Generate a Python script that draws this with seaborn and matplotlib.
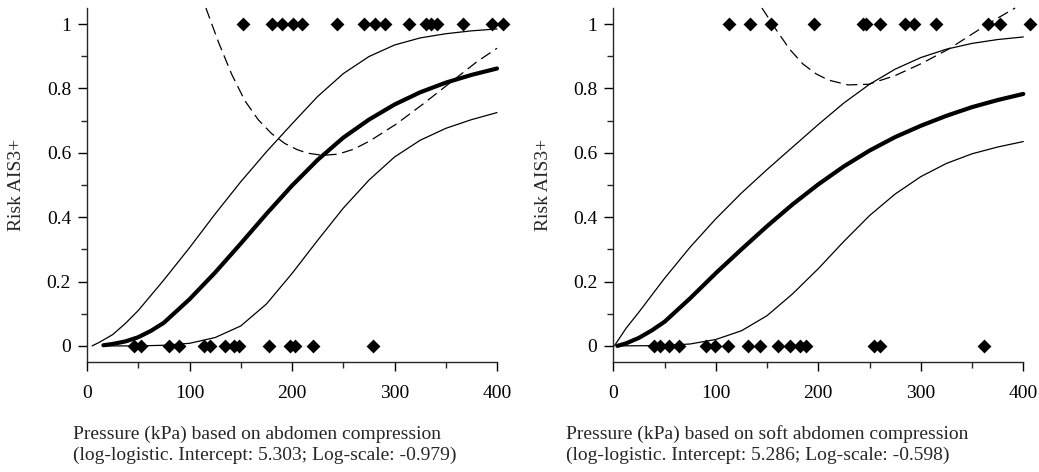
import matplotlib
matplotlib.use("Agg")
import matplotlib.pyplot as plt
import seaborn as sns
import numpy as np
import pandas as pd
from matplotlib.ticker import MultipleLocator

# ---------------- data: left panel (abdomen compression) ----------------
left_pts_1 = [152, 180, 190, 201, 210, 244, 270, 281, 291, 314, 331, 336, 341, 367, 395, 406]
left_pts_0 = [46, 53, 80, 90, 114, 120, 135, 143, 148, 178, 198, 203, 220, 279]

left_fit_x = [16, 25, 37.5, 50, 62.5, 75, 100, 125, 150, 175, 200, 225, 250, 275, 300, 325, 350, 375, 400]
left_fit_y = [0.002, 0.006, 0.014, 0.027, 0.047, 0.072, 0.145, 0.228, 0.318, 0.41, 0.498, 0.578,
              0.647, 0.703, 0.750, 0.788, 0.818, 0.842, 0.862]
left_up_x = [5, 12.5, 25, 37.5, 50, 75, 100, 125, 150, 175, 200, 225, 250, 275, 300, 325, 350, 375, 400]
left_up_y = [0.0, 0.012, 0.035, 0.07, 0.11, 0.205, 0.305, 0.41, 0.51, 0.603, 0.69, 0.775, 0.846,
             0.899, 0.935, 0.957, 0.97, 0.979, 0.985]
left_lo_x = [16, 50, 75, 100, 125, 150, 175, 200, 225, 250, 275, 300, 325, 350, 375, 400]
left_lo_y = [0.0, 0.0, 0.002, 0.008, 0.026, 0.062, 0.13, 0.225, 0.328, 0.428, 0.515, 0.587,
             0.639, 0.676, 0.703, 0.725]
left_dash_x = [116, 128, 141, 154, 167, 180, 193, 205, 215, 230, 245, 260, 276, 302, 328, 354, 380, 400]
left_dash_y = [1.05, 0.946, 0.845, 0.762, 0.703, 0.66, 0.629, 0.61, 0.599, 0.592, 0.596, 0.611,
               0.637, 0.69, 0.752, 0.817, 0.882, 0.925]

# ---------------- data: right panel (soft abdomen compression) ----------------
right_pts_1 = [113, 133, 154, 196, 244, 247, 260, 285, 293, 315, 366, 377, 407]
right_pts_0 = [40, 46, 54, 64, 90, 99, 112, 131, 143, 161, 172, 182, 188, 254, 260, 362]

right_fit_x = [4, 12.5, 25, 37.5, 50, 75, 100, 125, 150, 175, 200, 225, 250, 275, 300, 325, 350, 375, 400]
right_fit_y = [0.0, 0.008, 0.025, 0.048, 0.075, 0.148, 0.226, 0.30, 0.372, 0.44, 0.502, 0.558,
               0.607, 0.649, 0.684, 0.715, 0.742, 0.764, 0.783]
right_up_x = [1, 12.5, 25, 50, 75, 100, 125, 150, 175, 200, 225, 250, 275, 300, 325, 350, 375, 400]
right_up_y = [0.0, 0.055, 0.105, 0.21, 0.307, 0.395, 0.475, 0.548, 0.618, 0.688, 0.755, 0.813,
              0.86, 0.896, 0.922, 0.94, 0.952, 0.96]
right_lo_x = [4, 50, 75, 100, 125, 150, 175, 200, 225, 250, 275, 300, 325, 350, 375, 400]
right_lo_y = [0.0, 0.001, 0.006, 0.02, 0.047, 0.094, 0.162, 0.24, 0.325, 0.405, 0.472, 0.526,
              0.567, 0.597, 0.618, 0.635]
right_dash_x = [145, 159, 172, 185, 198, 210, 229, 249, 275, 301, 327, 353, 372, 392]
right_dash_y = [1.05, 0.982, 0.922, 0.876, 0.845, 0.826, 0.811, 0.813, 0.84, 0.878, 0.922,
                0.975, 1.013, 1.05]

x_labels = ["Pressure (kPa) based on abdomen compression\n(log-logistic. Intercept: 5.303; Log-scale: -0.979)",
            "Pressure (kPa) based on soft abdomen compression\n(log-logistic. Intercept: 5.286; Log-scale: -0.598)"]
y_label = "Risk AIS3+"

# ---------------- style ----------------
sns.set_style("ticks")
plt.rcParams["font.family"] = ["Liberation Serif", "DejaVu Serif"]
plt.rcParams["axes.linewidth"] = 1.0
FS = 14

W, H = 1039, 472
fig = plt.figure(figsize=(W / 100, H / 100), dpi=100)
ax1 = fig.add_axes([87 / W, (H - 362) / H, 410 / W, 354 / H])
ax2 = fig.add_axes([613.3 / W, (H - 362) / H, 410 / W, 354 / H])

panels = [
    (ax1, left_pts_1, left_pts_0, left_fit_x, left_fit_y, left_up_x, left_up_y,
     left_lo_x, left_lo_y, left_dash_x, left_dash_y),
    (ax2, right_pts_1, right_pts_0, right_fit_x, right_fit_y, right_up_x, right_up_y,
     right_lo_x, right_lo_y, right_dash_x, right_dash_y),
]

for i, (ax, p1, p0, fx, fy, ux, uy, lx, ly, dx, dy) in enumerate(panels):
    sns.lineplot(x=ux, y=uy, ax=ax, color="black", lw=0.9, sort=False, clip_on=False)
    sns.lineplot(x=lx, y=ly, ax=ax, color="black", lw=0.9, sort=False, clip_on=False)
    sns.lineplot(x=fx, y=fy, ax=ax, color="black", lw=3.0, sort=False, clip_on=False)
    sns.lineplot(x=dx, y=dy, ax=ax, color="black", lw=0.9, sort=False, clip_on=False,
                 linestyle=(0, (9, 4.5)))
    pts = pd.DataFrame({"x": list(p1) + list(p0), "y": [1] * len(p1) + [0] * len(p0)})
    sns.scatterplot(data=pts, x="x", y="y", ax=ax, marker="D", s=50, color="black",
                    edgecolor="black", linewidth=0, clip_on=False, zorder=5)

    ax.set_xlim(0, 400)
    ax.set_ylim(-0.05, 1.05)
    ax.xaxis.set_major_locator(MultipleLocator(100))
    ax.xaxis.set_minor_locator(MultipleLocator(50))
    ax.yaxis.set_minor_locator(MultipleLocator(0.1))
    ax.set_yticks([0, 0.2, 0.4, 0.6, 0.8, 1.0])
    ax.set_yticklabels(["0", "0.2", "0.4", "0.6", "0.8", "1"])
    ax.tick_params(which="major", direction="out", length=6.5, width=1.0, labelsize=FS,
                   colors="black")
    ax.tick_params(which="minor", direction="out", length=4.5, width=1.0)
    ax.tick_params(axis="x", which="major", pad=10)
    ax.tick_params(axis="y", which="major", pad=5)
    sns.despine(ax=ax)
    ax.set_xlabel("")
    ax.set_ylabel("")

fig.text(17 / W, (H - 185) / H, y_label, rotation=90, ha="center", va="center", fontsize=FS)
fig.text(543 / W, (H - 185) / H, y_label, rotation=90, ha="center", va="center", fontsize=FS)
fig.text(73 / W, (H - 445) / H, x_labels[0], ha="left", va="center", fontsize=FS,
         linespacing=1.28)
fig.text(566 / W, (H - 445) / H, x_labels[1], ha="left", va="center", fontsize=FS,
         linespacing=1.28)

fig.savefig("out.png", dpi=100)
